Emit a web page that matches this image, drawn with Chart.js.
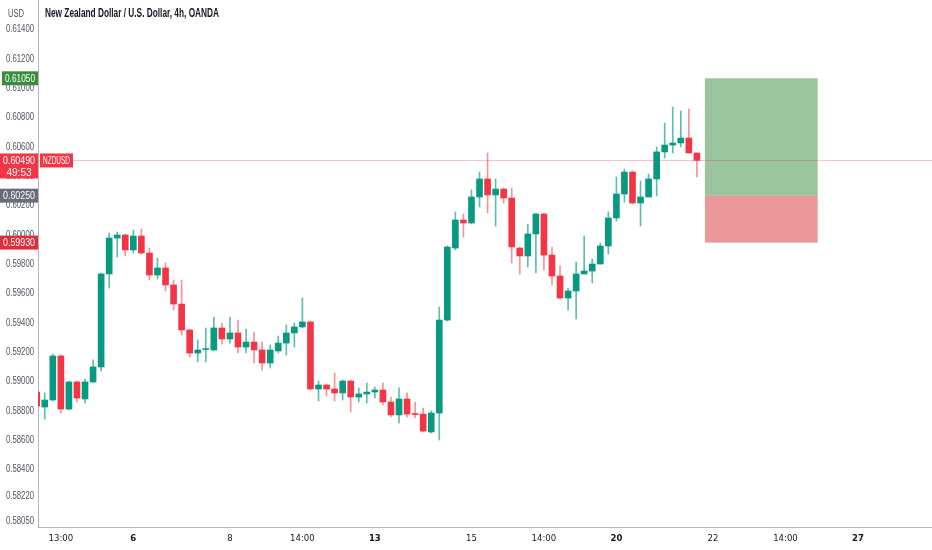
<!DOCTYPE html>
<html>
<head>
<meta charset="utf-8">
<script src="https://cdn.jsdelivr.net/npm/chart.js@4.4.0/dist/chart.umd.min.js"></script>
<style>
html, body { margin: 0; padding: 0; background: #fff; }
</style>
</head>
<body>
<canvas id="chart" width="932" height="550"></canvas>
<script>
// NZDUSD 4h candles (index = candle number)
const opens = [0.58911,0.58809,0.58857,0.59157,0.58795,0.58980,0.58864,0.58980,0.59082,0.59716,
  0.59961,0.59982,0.59880,0.59975,0.59859,0.59709,0.59757,0.59641,0.59511,0.59334,
  0.59177,0.59201,0.59198,0.59348,0.59273,0.59314,0.59218,0.59252,0.59198,0.59109,
  0.59191,0.59245,0.59314,0.59355,0.59389,0.58932,0.58959,0.58932,0.58905,0.58986,
  0.58877,0.58898,0.58911,0.58925,0.58843,0.58755,0.58864,0.58761,0.58761,0.58639,
  0.58768,0.59402,0.59893,0.60084,0.60064,0.60241,0.60364,0.60255,0.60295,0.60234,
  0.59893,0.59839,0.59989,0.60125,0.59845,0.59702,0.59552,0.59600,0.59716,0.59736,
  0.59784,0.59907,0.60098,0.60261,0.60411,0.60200,0.60241,0.60364,0.60548,0.60595,
  0.60609,0.60643,0.60541];
const highs = [0.58932,0.58905,0.59170,0.59164,0.58986,0.58986,0.59000,0.59130,0.59723,0.59995,
  0.60002,0.59989,0.60016,0.60023,0.59893,0.59825,0.59791,0.59675,0.59675,0.59341,
  0.59266,0.59348,0.59423,0.59382,0.59423,0.59402,0.59341,0.59320,0.59252,0.59232,
  0.59293,0.59368,0.59382,0.59552,0.59395,0.58986,0.58966,0.59041,0.58993,0.58993,
  0.58939,0.58973,0.58945,0.58973,0.58877,0.58939,0.58905,0.58843,0.58802,0.58782,
  0.59491,0.59907,0.60139,0.60125,0.60289,0.60411,0.60541,0.60364,0.60302,0.60302,
  0.59900,0.60057,0.60132,0.60132,0.59900,0.59770,0.59620,0.59798,0.59975,0.59818,
  0.59927,0.60139,0.60377,0.60432,0.60418,0.60350,0.60398,0.60582,0.60745,0.60854,
  0.60827,0.60841,0.60541];
const lows = [0.58775,0.58727,0.58850,0.58768,0.58789,0.58843,0.58836,0.58973,0.59055,0.59620,
  0.59832,0.59839,0.59859,0.59852,0.59675,0.59682,0.59600,0.59470,0.59300,0.59150,
  0.59116,0.59116,0.59191,0.59239,0.59245,0.59177,0.59177,0.59109,0.59061,0.59075,
  0.59177,0.59164,0.59218,0.59348,0.58925,0.58850,0.58884,0.58850,0.58857,0.58775,
  0.58843,0.58836,0.58870,0.58823,0.58741,0.58700,0.58741,0.58734,0.58639,0.58632,
  0.58584,0.59395,0.59880,0.59968,0.60057,0.60173,0.60132,0.60043,0.60200,0.59791,
  0.59716,0.59764,0.59723,0.59743,0.59641,0.59545,0.59470,0.59409,0.59716,0.59655,
  0.59784,0.59852,0.60077,0.60207,0.60193,0.60043,0.60241,0.60248,0.60507,0.60541,
  0.60582,0.60541,0.60377];
const closes = [0.58816,0.58857,0.59157,0.58795,0.58980,0.58870,0.58980,0.59082,0.59716,0.59961,
  0.59982,0.59880,0.59975,0.59859,0.59709,0.59757,0.59641,0.59511,0.59334,0.59177,
  0.59198,0.59205,0.59348,0.59273,0.59314,0.59218,0.59252,0.59198,0.59109,0.59198,
  0.59245,0.59314,0.59355,0.59389,0.58932,0.58959,0.58932,0.58905,0.58986,0.58877,
  0.58898,0.58911,0.58925,0.58843,0.58755,0.58864,0.58761,0.58758,0.58645,0.58768,
  0.59402,0.59900,0.60084,0.60064,0.60241,0.60364,0.60255,0.60295,0.60234,0.59900,
  0.59839,0.59989,0.60125,0.59845,0.59702,0.59552,0.59600,0.59716,0.59736,0.59784,
  0.59907,0.60098,0.60261,0.60411,0.60200,0.60241,0.60364,0.60548,0.60595,0.60609,
  0.60643,0.60541,0.60490];

const priceTicks = [0.614,0.612,0.610,0.608,0.606,0.604,0.602,0.600,0.598,0.596,
  0.594,0.592,0.590,0.588,0.586,0.584,0.5822,0.5805];
const timeTickPos = [3, 12, 24, 33, 42, 54, 63, 72, 84, 93, 102];
const timeTickLabels = ['13:00', '6', '8', '14:00', '13', '15', '14:00', '20', '22', '14:00', '27'];
const boldTimeLabels = ['6', '13', '20', '27'];

// long position tool + last price
const lastPrice = 0.6049;
const countdown = '49:53';
const takeProfit = 0.6105;
const entryPrice = 0.6025;
const stopLoss = 0.5993;
const positionFrom = 83;
const positionTo = 97;

const UP = '#089981';
const DOWN = '#f23645';
const FONT = '"Liberation Sans", Arial, sans-serif';

const isUp = closes.map((c, i) => c >= opens[i]);
const bodyColors = isUp.map(u => u ? UP : DOWN);
const wickColors = isUp.map(u => u ? 'rgba(8,153,129,0.65)' : 'rgba(242,54,69,0.55)');

const wickData = highs.map((h, i) => ({ x: i, y: [lows[i], h] }));
const bodyData = opens.map((o, i) => ({ x: i, y: [Math.min(o, closes[i]), Math.max(o, closes[i])] }));

// small label box on the price scale, text squeezed like the original
function tag(ctx, x, yc, w, h, bg, lines) {
  ctx.fillStyle = bg;
  ctx.fillRect(x, yc - 7, w, h);
  ctx.fillStyle = '#fff';
  ctx.font = '10px ' + FONT;
  ctx.textAlign = 'center';
  ctx.textBaseline = 'middle';
  lines.forEach((t, k) => ctx.fillText(t, x + w / 2, yc + 0.5 + k * 12, w - 6));
}

const overlay = {
  id: 'overlay',
  beforeDatasetsDraw(chart) {
    const { ctx, scales: { x, y } } = chart;
    const l = x.getPixelForValue(positionFrom), r = x.getPixelForValue(positionTo);
    const top = y.getPixelForValue(takeProfit), mid = y.getPixelForValue(entryPrice), bot = y.getPixelForValue(stopLoss);
    ctx.save();
    ctx.fillStyle = 'rgba(56,142,60,0.5)';
    ctx.fillRect(l, top, r - l, mid - top);
    ctx.fillStyle = 'rgba(211,47,47,0.5)';
    ctx.fillRect(l, mid, r - l, bot - mid);
    ctx.restore();
  },
  afterDatasetsDraw(chart) {
    const { ctx, chartArea, scales: { y } } = chart;
    const py = Math.round(y.getPixelForValue(lastPrice)) + 0.5;
    ctx.save();
    ctx.strokeStyle = 'rgba(242,54,69,0.3)';
    ctx.lineWidth = 1;
    ctx.beginPath();
    ctx.moveTo(chartArea.left, py);
    ctx.lineTo(chartArea.right, py);
    ctx.stroke();
    ctx.restore();
  },
  afterDraw(chart) {
    const { ctx, chartArea, scales: { y } } = chart;
    ctx.save();
    // price scale tick labels (narrow, like the original)
    ctx.fillStyle = '#50535e';
    ctx.font = '10.5px ' + FONT;
    ctx.textAlign = 'right';
    ctx.textBaseline = 'middle';
    priceTicks.forEach(v => ctx.fillText(v.toFixed(5), 34, y.getPixelForValue(v) + 2.5, 28));
    // price scale labels
    tag(ctx, 2, y.getPixelForValue(takeProfit), 36, 14, '#388e3c', [takeProfit.toFixed(5)]);
    tag(ctx, 0, y.getPixelForValue(lastPrice), 38, 25, DOWN, [lastPrice.toFixed(5), countdown]);
    tag(ctx, 0, y.getPixelForValue(entryPrice), 38, 14, '#6a6d78', [entryPrice.toFixed(5)]);
    tag(ctx, 0, y.getPixelForValue(stopLoss), 38, 14, '#dc2f3a', [stopLoss.toFixed(5)]);
    tag(ctx, chartArea.left + 2, y.getPixelForValue(lastPrice), 33, 14, DOWN, ['NZDUSD']);
    // currency box + title
    ctx.fillStyle = '#fff';
    ctx.fillRect(0, 0, 37, 24);
    ctx.fillStyle = '#50535e';
    ctx.font = '10px ' + FONT;
    ctx.textAlign = 'left';
    ctx.textBaseline = 'middle';
    ctx.fillText('USD', 8, 14, 16);
    ctx.fillStyle = '#131722';
    ctx.font = 'bold 12px ' + FONT;
    ctx.fillText('New Zealand Dollar / U.S. Dollar, 4h, OANDA', 45, 14, 174);
    ctx.restore();
  }
};

new Chart(document.getElementById('chart'), {
  type: 'bar',
  data: {
    datasets: [
      { data: wickData, backgroundColor: wickColors, barThickness: 1, grouped: false, order: 2 },
      { data: bodyData, backgroundColor: bodyColors, barThickness: 6, minBarLength: 1, grouped: false, order: 1 }
    ]
  },
  options: {
    responsive: false,
    animation: false,
    layout: { padding: 0 },
    plugins: { legend: { display: false }, tooltip: { enabled: false } },
    scales: {
      x: {
        type: 'linear',
        min: 0.16,
        max: 111.2,
        offset: false,
        grid: { display: false, drawTicks: false },
        border: { color: '#b2b5be' },
        afterBuildTicks: s => { s.ticks = timeTickPos.map(v => ({ value: v })); },
        afterFit: s => { s.height = 23; s.paddingLeft = 0; s.paddingRight = 0; },
        ticks: {
          autoSkip: false,
          maxRotation: 0,
          padding: 6,
          color: '#131722',
          callback: v => timeTickLabels[timeTickPos.indexOf(v)],
          font: c => ({ family: '"DejaVu Sans Condensed", ' + FONT, size: 9.5,
            weight: boldTimeLabels.includes(timeTickLabels[c.index]) ? 'bold' : 'normal' })
        }
      },
      y: {
        position: 'left',
        min: 0.57991,
        max: 0.61584,
        grid: { display: false, drawTicks: false },
        border: { color: '#b2b5be' },
        afterBuildTicks: s => { s.ticks = priceTicks.map(v => ({ value: v })); },
        afterFit: s => { s.width = 38; s.paddingTop = 0; s.paddingBottom = 0; },
        ticks: { display: false }
      }
    }
  },
  plugins: [overlay]
});
</script>
</body>
</html>
